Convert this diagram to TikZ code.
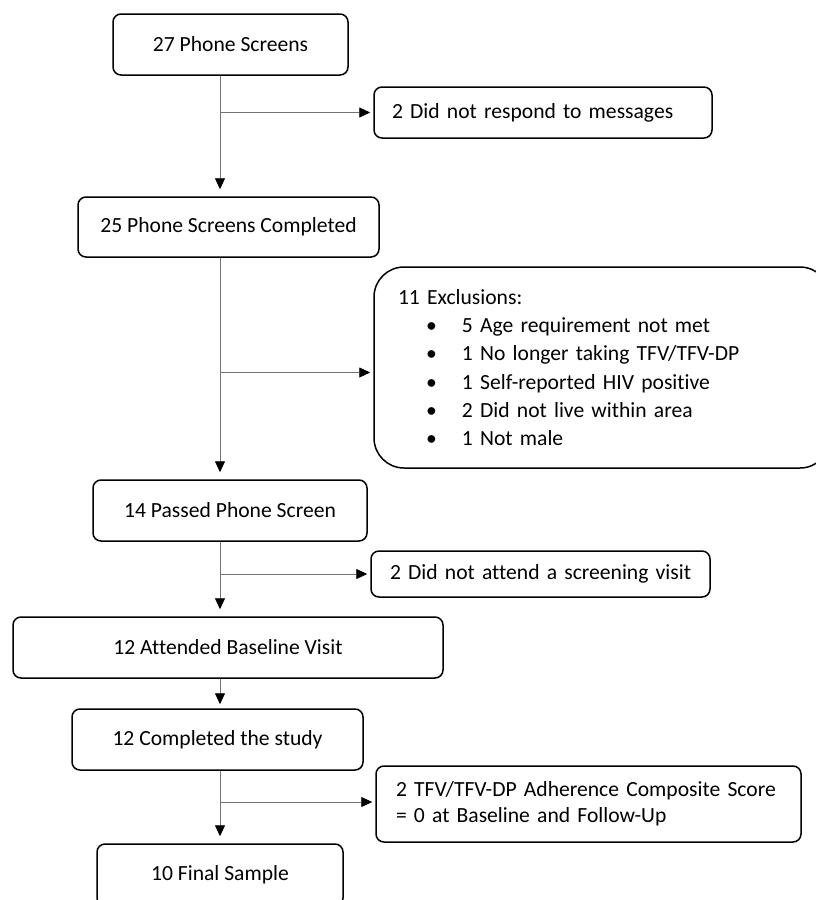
\documentclass[tikz,border=0pt]{standalone}
\usepackage{fontspec}
\setmainfont[Ligatures=NoCommon]{Carlito}
\usetikzlibrary{arrows.meta, positioning}

\begin{document}
\begin{tikzpicture}[
    x=1pt, y=-1pt,
    every node/.style={font=\fontsize{21.6}{26}\selectfont},
    box/.style={rectangle, draw=black, line width=1.5pt, rounded corners=8pt, align=center, fill=white},
    sidebox/.style={box, align=left, inner xsep=18pt},
    arrow/.style={-{Triangle[length=11pt, width=10pt, black]}, draw=black!55, line width=0.9pt, shorten >=7pt}
]
\clip (0,0) rectangle (816,900);
\coordinate (trunk) at (220,0);
\node[box, minimum width=235pt, minimum height=61pt] (screens) at (230.5,44.5) {27 Phone Screens};
\node[sidebox, text width=302pt, minimum height=51pt] (noresp) at (543,112.5) {\mbox{2 Did not respond to messages}};
\node[box, minimum width=301pt, minimum height=60pt] (completed) at (228.5,227) {25 Phone Screens Completed};
\node[sidebox, rounded corners=30pt, inner xsep=24pt, text width=408pt, minimum height=201pt,
      font=\fontsize{21.6}{28.2}\selectfont] (excl) at (602,367.5) {11 Exclusions:\\
    \hspace*{28pt}\makebox[36pt][l]{\textbullet}5 Age requirement not met\\
    \hspace*{28pt}\makebox[36pt][l]{\textbullet}1 No longer taking TFV/TFV-DP\\
    \hspace*{28pt}\makebox[36pt][l]{\textbullet}1 Self-reported HIV positive\\
    \hspace*{28pt}\makebox[36pt][l]{\textbullet}2 Did not live within area\\
    \hspace*{28pt}\makebox[36pt][l]{\textbullet}1 Not male};
\node[box, minimum width=274pt, minimum height=61pt] (passed) at (230,510.5) {14 Passed Phone Screen};
\node[sidebox, inner xsep=19pt, text width=301pt, minimum height=46pt] (noattend) at (540.5,574) {\mbox{2 Did not attend a screening visit}};
\node[box, minimum width=430pt, minimum height=61pt] (baseline) at (228,647.5) {12 Attended Baseline Visit};
\node[box, minimum width=291pt, minimum height=61pt] (study) at (217.5,739.5) {12 Completed the study};
\node[sidebox, inner xsep=20pt, text width=385pt, minimum height=76pt] (score) at (588.5,804) {\mbox{2 TFV/TFV-DP Adherence Composite Score}\\\mbox{= 0 at Baseline and Follow-Up}};
\node[box, minimum width=246pt, minimum height=62pt] (final) at (220,875) {10 Final Sample};
\draw[arrow] (screens.south -| trunk) -- (completed.north -| trunk);
\draw[arrow, shorten >=3pt] (noresp.west -| trunk) -- (noresp.west);
\draw[arrow] (completed.south -| trunk) -- (passed.north -| trunk);
\draw[arrow, shorten >=3pt] ([yshift=-5pt]excl.west -| trunk) -- ([yshift=-5pt]excl.west);
\draw[arrow] (passed.south -| trunk) -- (baseline.north -| trunk);
\draw[arrow, shorten >=3pt] (noattend.west -| trunk) -- (noattend.west);
\draw[arrow, shorten >=4pt] (baseline.south -| trunk) -- (study.north -| trunk);
\draw[arrow] (study.south -| trunk) -- (final.north -| trunk);
\draw[arrow, shorten >=3pt] ([yshift=2pt]score.west -| trunk) -- ([yshift=2pt]score.west);
\end{tikzpicture}
\end{document}
